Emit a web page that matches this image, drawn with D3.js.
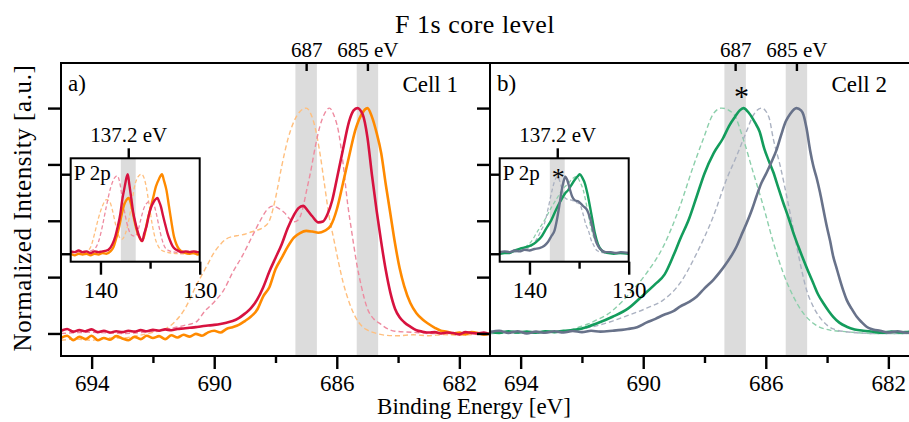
<!DOCTYPE html>
<html>
<head>
<meta charset="utf-8">
<script src="https://cdn.jsdelivr.net/npm/d3@7"></script>
<style>
  html, body { margin: 0; padding: 0; background: #fff; }
  svg { display: block; font-family: "Liberation Serif", "Times New Roman", serif; }
</style>
</head>
<body>
<svg id="chart" width="909" height="422"></svg>
<script>
// ---------------- F 1s spectra, [binding energy (eV), normalized intensity] ----------------
// Cell 1
const cell1Red = [
  [695.0,0.012],[694.8,0.020],[694.6,0.008],[694.4,0.015],[694.2,0.010],[694.0,0.018],[693.8,0.006],
  [693.6,0.012],[693.4,0.004],[693.2,0.010],[693.0,0.006],[692.8,0.012],[692.6,0.008],[692.4,0.015],
  [692.2,0.010],[692.0,0.016],[691.8,0.012],[691.6,0.018],[691.4,0.014],[691.2,0.020],[691.0,0.022],
  [690.8,0.025],[690.6,0.028],[690.4,0.032],[690.2,0.035],[690.0,0.038],[689.8,0.042],[689.6,0.048],
  [689.4,0.055],[689.2,0.068],[689.0,0.088],[688.8,0.112],[688.6,0.150],[688.4,0.205],[688.2,0.275],
  [688.0,0.335],[687.8,0.395],[687.6,0.468],[687.4,0.525],[687.25,0.556],[687.1,0.566],[686.95,0.545],
  [686.8,0.520],[686.6,0.493],[686.45,0.497],[686.3,0.530],[686.15,0.590],[686.0,0.684],[685.8,0.815],
  [685.6,0.940],[685.45,0.990],[685.33,1.000],[685.15,0.970],[685.0,0.870],[684.85,0.700],[684.7,0.545],
  [684.55,0.405],[684.4,0.280],[684.25,0.180],[684.1,0.110],[683.95,0.072],[683.8,0.050],[683.6,0.030],
  [683.4,0.014],[683.2,0.008],[683.0,0.004],[682.8,0.006],[682.6,0.000],[682.4,0.004],[682.2,0.002],
  [682.0,-0.004],[681.8,0.006],[681.6,0.002],[681.4,0.000],[681.2,0.004],[681.0,-0.004]
];
const cell1Orange = [
  [695.0,-0.020],[694.8,-0.010],[694.6,-0.030],[694.4,-0.015],[694.2,-0.025],[694.0,-0.010],[693.8,-0.030],
  [693.6,-0.020],[693.4,-0.028],[693.2,-0.012],[693.0,-0.022],[692.8,-0.030],[692.6,-0.015],[692.4,-0.025],
  [692.2,-0.010],[692.0,-0.020],[691.8,-0.012],[691.6,-0.025],[691.4,-0.008],[691.2,-0.018],[691.0,-0.006],
  [690.8,-0.014],[690.6,-0.002],[690.4,-0.010],[690.2,0.005],[690.0,0.012],[689.8,0.004],[689.6,0.020],
  [689.4,0.028],[689.2,0.038],[689.0,0.055],[688.8,0.075],[688.6,0.105],[688.4,0.165],[688.2,0.205],
  [688.0,0.285],[687.8,0.335],[687.6,0.385],[687.4,0.425],[687.2,0.445],[687.0,0.455],[686.8,0.452],
  [686.6,0.447],[686.4,0.455],[686.2,0.478],[686.0,0.550],[685.8,0.665],[685.6,0.785],[685.4,0.900],
  [685.2,0.970],[685.0,1.000],[684.85,0.960],[684.7,0.890],[684.55,0.800],[684.4,0.660],[684.25,0.530],
  [684.1,0.400],[683.95,0.290],[683.8,0.210],[683.6,0.135],[683.4,0.090],[683.2,0.062],[683.0,0.042],
  [682.8,0.025],[682.6,0.012],[682.4,0.008],[682.2,0.000],[682.0,0.004],[681.8,-0.004],[681.6,0.006],
  [681.4,0.002],[681.2,-0.006],[681.0,0.000]
];
const cell1RedRef = [
  [695.0,0.000],[694.0,0.005],[693.0,0.000],[692.0,0.010],[691.5,0.020],[691.0,0.035],[690.6,0.050],
  [690.3,0.100],[690.0,0.140],[689.7,0.190],[689.4,0.270],[689.1,0.340],[688.8,0.420],[688.5,0.500],
  [688.3,0.545],[688.1,0.565],[687.9,0.555],[687.7,0.535],[687.55,0.510],[687.4,0.495],[687.25,0.505],
  [687.1,0.560],[687.0,0.625],[686.85,0.720],[686.7,0.830],[686.55,0.920],[686.4,0.975],[686.24,1.000],
  [686.1,0.970],[685.95,0.900],[685.8,0.760],[685.65,0.580],[685.5,0.440],[685.35,0.310],[685.2,0.210],
  [685.0,0.110],[684.8,0.065],[684.6,0.045],[684.4,0.025],[684.1,0.010],[683.5,0.005],[683.0,0.000],
  [682.0,0.000],[681.0,-0.003]
];
const cell1OrangeRef = [
  [695.0,-0.030],[694.5,-0.025],[694.0,-0.030],[693.5,-0.020],[693.0,-0.020],[692.5,-0.010],[692.0,0.005],
  [691.6,0.020],[691.3,0.050],[691.0,0.100],[690.8,0.150],[690.6,0.210],[690.4,0.260],[690.2,0.310],
  [690.0,0.360],[689.8,0.395],[689.6,0.420],[689.4,0.430],[689.2,0.435],[689.0,0.440],[688.8,0.450],
  [688.6,0.458],[688.4,0.470],[688.2,0.500],[688.0,0.600],[687.8,0.740],[687.6,0.860],[687.4,0.940],
  [687.2,0.985],[687.0,1.000],[686.85,0.975],[686.7,0.910],[686.55,0.800],[686.4,0.660],[686.25,0.520],
  [686.1,0.420],[685.95,0.320],[685.8,0.230],[685.6,0.140],[685.4,0.075],[685.2,0.035],[685.0,0.015],
  [684.7,0.000],[684.4,-0.008],[684.0,-0.010],[683.5,-0.006],[683.0,-0.010],[682.5,-0.005],[682.0,-0.008],
  [681.5,-0.004],[681.0,-0.006]
];
// Cell 2
const cell2Green = [
  [695.0,0.008],[694.7,0.002],[694.4,0.010],[694.1,0.004],[693.8,0.009],[693.5,0.003],[693.2,0.010],
  [692.9,0.006],[692.6,0.012],[692.3,0.015],[692.0,0.022],[691.5,0.045],[691.0,0.074],[690.5,0.110],
  [690.0,0.170],[689.6,0.220],[689.3,0.262],[689.0,0.350],[688.8,0.417],[688.5,0.510],[688.25,0.610],
  [688.0,0.710],[687.7,0.800],[687.4,0.865],[687.2,0.920],[687.0,0.962],[686.85,0.990],[686.73,1.000],
  [686.55,0.978],[686.35,0.935],[686.2,0.895],[686.05,0.820],[685.9,0.765],[685.75,0.714],[685.6,0.650],
  [685.43,0.580],[685.25,0.510],[685.1,0.446],[684.95,0.390],[684.77,0.327],[684.6,0.270],[684.45,0.223],
  [684.3,0.175],[684.12,0.134],[683.95,0.100],[683.8,0.074],[683.6,0.048],[683.36,0.030],[683.1,0.018],
  [682.82,0.012],[682.5,0.008],[682.2,0.003],[681.9,0.009],[681.6,0.004],[681.3,0.008],[681.0,0.005]
];
const cell2Gray = [
  [695.0,0.006],[694.7,0.012],[694.4,0.002],[694.1,0.010],[693.8,0.000],[693.5,0.008],[693.2,0.003],
  [692.9,0.010],[692.6,0.004],[692.3,0.011],[692.0,0.006],[691.7,0.012],[691.4,0.008],[691.0,0.012],
  [690.7,0.016],[690.5,0.020],[690.2,0.028],[689.9,0.048],[689.6,0.065],[689.34,0.082],[689.0,0.100],
  [688.8,0.119],[688.5,0.140],[688.25,0.164],[688.0,0.200],[687.71,0.238],[687.5,0.272],[687.28,0.313],
  [687.1,0.350],[686.95,0.387],[686.8,0.435],[686.62,0.491],[686.45,0.550],[686.3,0.610],[686.15,0.665],
  [685.97,0.714],[685.8,0.765],[685.64,0.818],[685.5,0.880],[685.35,0.940],[685.2,0.975],[685.0,1.000],
  [684.85,0.990],[684.77,0.970],[684.67,0.910],[684.55,0.810],[684.45,0.744],[684.34,0.690],[684.23,0.625],
  [684.12,0.550],[684.01,0.476],[683.9,0.410],[683.8,0.342],[683.69,0.290],[683.58,0.238],[683.47,0.190],
  [683.36,0.149],[683.2,0.110],[683.03,0.074],[682.87,0.050],[682.71,0.030],[682.5,0.018],[682.27,0.012],
  [682.0,0.004],[681.7,0.010],[681.4,0.003],[681.0,0.006]
];
const cell2GreenRef = [
  [695.0,0.000],[693.0,0.005],[692.5,0.012],[692.06,0.030],[691.8,0.042],[691.52,0.060],[691.2,0.082],
  [690.98,0.104],[690.7,0.140],[690.43,0.179],[689.89,0.268],[689.34,0.387],[688.8,0.565],[688.36,0.744],
  [688.04,0.863],[687.71,0.975],[687.44,1.000],[687.06,0.975],[686.73,0.860],[686.41,0.714],[686.08,0.565],
  [685.75,0.402],[685.43,0.268],[685.1,0.164],[684.77,0.089],[684.45,0.045],[683.9,0.015],[683.4,0.008],
  [682.5,0.000],[681.0,0.000]
];
const cell2GrayRef = [
  [695.0,0.000],[693.0,0.005],[692.0,0.020],[691.5,0.035],[691.0,0.055],[690.5,0.080],[689.89,0.112],
  [689.34,0.149],[688.8,0.223],[688.25,0.357],[687.71,0.520],[687.28,0.684],[686.95,0.788],[686.62,0.900],
  [686.4,0.970],[686.13,1.000],[685.9,0.960],[685.75,0.860],[685.53,0.744],[685.32,0.610],[685.1,0.461],
  [684.88,0.313],[684.67,0.193],[684.45,0.119],[684.12,0.052],[683.8,0.020],[683.4,0.008],[682.5,0.000],
  [681.0,0.000]
];

// ---------------- P 2p spectra (insets) ----------------
const p2pRed = [
  [143.0,0.03],[142.6,0.02],[142.2,0.04],[141.8,0.02],[141.4,0.03],[141.0,0.01],[140.6,0.03],[140.2,0.02],
  [139.8,0.03],[139.4,0.04],[139.2,0.05],[138.8,0.12],[138.5,0.22],[138.3,0.32],[138.0,0.50],[137.8,0.68],
  [137.55,0.85],[137.35,0.97],[137.25,1.00],[137.1,0.88],[136.9,0.70],[136.7,0.52],[136.5,0.40],[136.3,0.30],
  [136.1,0.22],[135.9,0.17],[135.78,0.16],[135.6,0.25],[135.35,0.35],[135.1,0.50],[134.85,0.60],[134.6,0.66],
  [134.4,0.69],[134.25,0.70],[134.1,0.66],[133.9,0.59],[133.7,0.48],[133.5,0.38],[133.25,0.26],[133.0,0.17],
  [132.75,0.10],[132.5,0.06],[132.2,0.04],[131.8,0.02],[131.4,0.03],[131.0,0.02],[130.6,0.03],[130.2,0.02],
  [130.0,0.02]
];
const p2pOrange = [
  [143.0,0.00],[142.6,-0.02],[142.2,0.00],[141.8,-0.01],[141.4,0.00],[141.0,-0.02],[140.6,0.00],[140.2,-0.01],
  [139.8,0.01],[139.4,0.00],[139.0,0.03],[138.7,0.08],[138.4,0.20],[138.1,0.35],[137.85,0.50],[137.6,0.62],
  [137.3,0.69],[137.15,0.70],[137.0,0.66],[136.8,0.56],[136.6,0.43],[136.4,0.32],[136.2,0.24],[136.0,0.19],
  [135.84,0.16],[135.6,0.22],[135.3,0.40],[135.0,0.55],[134.7,0.70],[134.4,0.85],[134.1,0.94],[133.8,1.00],
  [133.6,0.92],[133.35,0.80],[133.1,0.60],[132.85,0.40],[132.6,0.22],[132.35,0.12],[132.1,0.06],[131.8,0.03],
  [131.5,0.01],[131.0,0.00],[130.6,0.01],[130.2,-0.01],[130.0,0.00]
];
const p2pRedRef = [
  [143.0,0.02],[142.0,0.02],[141.2,0.03],[140.6,0.06],[140.2,0.15],[139.8,0.35],[139.4,0.60],[139.0,0.82],
  [138.6,0.95],[138.3,0.98],[138.1,0.92],[137.8,0.70],[137.5,0.48],[137.2,0.32],[136.9,0.24],[136.5,0.22],
  [136.2,0.30],[135.9,0.45],[135.6,0.58],[135.3,0.64],[135.0,0.66],[134.7,0.64],[134.4,0.52],[134.1,0.34],
  [133.8,0.18],[133.5,0.08],[133.1,0.04],[132.5,0.02],[131.0,0.01],[130.0,0.01]
];
const p2pOrangeRef = [
  [143.0,-0.01],[142.0,0.00],[141.5,0.02],[141.0,0.08],[140.6,0.25],[140.2,0.45],[139.8,0.60],[139.4,0.68],
  [139.1,0.66],[138.8,0.55],[138.5,0.38],[138.2,0.24],[137.85,0.18],[137.5,0.25],[137.1,0.45],[136.8,0.68],
  [136.5,0.88],[136.2,0.97],[135.9,1.00],[135.7,0.98],[135.4,0.85],[135.1,0.62],[134.8,0.38],[134.5,0.20],
  [134.2,0.10],[133.8,0.04],[133.3,0.02],[132.0,0.00],[130.0,0.00]
];
const p2pGreen = [
  [143.0,0.00],[142.5,0.01],[142.0,0.01],[141.54,0.04],[140.8,0.07],[139.84,0.105],[139.3,0.15],[138.82,0.21],
  [138.3,0.32],[137.81,0.42],[137.3,0.56],[136.79,0.68],[136.4,0.76],[136.1,0.80],[135.8,0.86],[135.43,0.93],
  [135.1,0.98],[134.92,1.00],[134.65,0.95],[134.42,0.886],[134.15,0.75],[133.9,0.59],[133.65,0.42],[133.4,0.253],
  [133.1,0.12],[132.7,0.04],[132.2,0.01],[131.5,0.00],[130.8,0.01],[130.0,0.00]
];
const p2pGray = [
  [143.0,0.02],[142.5,0.03],[142.0,0.02],[141.5,0.04],[141.0,0.03],[140.5,0.05],[140.0,0.04],[139.5,0.06],
  [139.0,0.07],[138.5,0.10],[138.14,0.147],[137.8,0.22],[137.47,0.295],[137.2,0.45],[136.96,0.63],[136.75,0.80],
  [136.6,0.89],[136.4,0.97],[136.2,0.93],[135.95,0.82],[135.7,0.72],[135.4,0.67],[135.09,0.66],[134.6,0.60],
  [134.2,0.55],[133.9,0.45],[133.6,0.30],[133.3,0.16],[133.0,0.08],[132.7,0.04],[132.3,0.02],[131.8,0.02],
  [131.3,0.01],[130.8,0.02],[130.0,0.01]
];
const p2pGreenRef = [
  [143.0,0.00],[141.5,0.03],[140.5,0.08],[139.84,0.15],[139.2,0.28],[138.49,0.42],[137.8,0.58],[137.12,0.72],
  [136.6,0.82],[136.1,0.88],[135.7,0.94],[135.26,0.97],[134.9,0.90],[134.58,0.80],[134.2,0.58],[133.9,0.38],
  [133.5,0.20],[133.22,0.12],[132.8,0.05],[132.2,0.02],[131.0,0.01],[130.0,0.00]
];
const p2pGrayRef = [
  [143.0,0.00],[141.5,0.02],[140.5,0.05],[139.8,0.10],[139.2,0.20],[138.8,0.30],[138.49,0.38],[138.1,0.58],
  [137.81,0.75],[137.5,0.90],[137.2,0.97],[137.0,0.93],[136.7,0.80],[136.4,0.70],[136.1,0.68],[135.77,0.675],
  [135.4,0.65],[134.92,0.62],[134.6,0.50],[134.3,0.36],[134.07,0.295],[133.8,0.18],[133.5,0.10],[133.2,0.04],
  [132.5,0.01],[130.0,0.00]
];

// ---------------- axes, labels, markers ----------------
const energyMajorTicks = [694, 690, 686, 682];
const energyMinorTicks = [692, 688, 684];
const topMarkerTicks = [687, 685];
const topMarkerLabels = ["687", "685 eV"];
const intensityTicks = [0, 0.25, 0.5, 0.75, 1];
const p2pMajorTicks = [140, 130];
const p2pMinorTicks = [135];
const p2pMarker = 137.2;
const p2pMarkerLabel = "137.2 eV";
const bandHalfWidth = 0.35;
const p2pBandHalfWidth = 0.75;

const colors = {
  red: "#d7123f", orange: "#ff8a00",
  redRef: "#ee8ba0", orangeRef: "#ffbf7e",
  green: "#139c5c", gray: "#68728a",
  greenRef: "#8ccfab", grayRef: "#aab1c1"
};

const svg = d3.select("#chart");
const TOP = 63, BOTTOM = 356;
const y = d3.scaleLinear().domain([-0.1, 1.2]).range([BOTTOM, TOP]);

const panels = [
  {
    x0: 61, x1: 490, tag: "a)", cell: "Cell 1", mainStar: false,
    main: [
      { data: cell1OrangeRef, color: colors.orangeRef, dashed: true },
      { data: cell1RedRef, color: colors.redRef, dashed: true },
      { data: cell1Orange, color: colors.orange },
      { data: cell1Red, color: colors.red }
    ],
    inset: [
      { data: p2pOrangeRef, color: colors.orangeRef, dashed: true },
      { data: p2pRedRef, color: colors.redRef, dashed: true },
      { data: p2pOrange, color: colors.orange },
      { data: p2pRed, color: colors.red }
    ]
  },
  {
    x0: 490, x1: 919, tag: "b)", cell: "Cell 2", mainStar: true,
    main: [
      { data: cell2GreenRef, color: colors.greenRef, dashed: true },
      { data: cell2GrayRef, color: colors.grayRef, dashed: true },
      { data: cell2Green, color: colors.green },
      { data: cell2Gray, color: colors.gray }
    ],
    inset: [
      { data: p2pGreenRef, color: colors.greenRef, dashed: true },
      { data: p2pGrayRef, color: colors.grayRef, dashed: true },
      { data: p2pGreen, color: colors.green },
      { data: p2pGray, color: colors.gray }
    ]
  }
];

function styleAxis(g, fontSize) {
  g.select(".domain").remove();
  g.selectAll(".tick line").attr("stroke", "#000").attr("stroke-width", 2.4);
  g.selectAll(".tick text").attr("fill", "#000").attr("font-size", fontSize)
    .attr("font-family", "Liberation Serif, serif");
}

panels.forEach((p, i) => {
  const x = d3.scaleLinear().domain([695, 681]).range([p.x0, p.x1]);
  const clipId = "clip-main-" + i;
  svg.append("clipPath").attr("id", clipId)
    .append("rect").attr("x", p.x0).attr("y", TOP).attr("width", p.x1 - p.x0).attr("height", BOTTOM - TOP);

  const body = svg.append("g").attr("clip-path", `url(#${clipId})`);
  // reference energy bands
  body.selectAll("rect.band").data(topMarkerTicks).join("rect")
    .attr("class", "band")
    .attr("x", d => x(d + bandHalfWidth))
    .attr("width", d => x(d - bandHalfWidth) - x(d + bandHalfWidth))
    .attr("y", TOP).attr("height", BOTTOM - TOP)
    .attr("fill", "#dcdcdc");

  const line = d3.line().x(d => x(d[0])).y(d => y(d[1])).curve(d3.curveMonotoneX);
  p.main.forEach(s => {
    body.append("path").datum(s.data)
      .attr("d", line)
      .attr("fill", "none")
      .attr("stroke", s.color)
      .attr("stroke-width", s.dashed ? 1.4 : 2.6)
      .attr("stroke-dasharray", s.dashed ? "5,3" : null)
      .attr("stroke-linejoin", "round");
  });

  // axes
  const gBottom = svg.append("g").attr("transform", `translate(0,${BOTTOM})`)
    .call(d3.axisBottom(x).tickValues(energyMajorTicks).tickSize(13).tickPadding(6).tickFormat(d3.format("d")));
  styleAxis(gBottom, 23);
  gBottom.selectAll(".tick text").attr("dy", "0.71em");
  const gMinor = svg.append("g").attr("transform", `translate(0,${BOTTOM})`)
    .call(d3.axisBottom(x).tickValues(energyMinorTicks).tickSize(7).tickFormat(""));
  styleAxis(gMinor, 23);

  const gLeft = svg.append("g").attr("transform", `translate(${p.x0},0)`)
    .call(d3.axisLeft(y).tickValues(intensityTicks).tickSize(13).tickFormat(""));
  styleAxis(gLeft, 23);

  const gTop = svg.append("g").attr("transform", `translate(0,${TOP})`)
    .call(d3.axisTop(x).tickValues(topMarkerTicks).tickSize(-8).tickPadding(6)
      .tickFormat((d, k) => topMarkerLabels[k]));
  styleAxis(gTop, 21);

  // frame
  const frame = svg.append("g").attr("stroke", "#000").attr("stroke-width", 2).attr("fill", "none");
  frame.append("path").attr("d", `M${p.x0},${TOP}H${p.x1}M${p.x0},${BOTTOM}H${p.x1}M${p.x0},${TOP - 1}V${BOTTOM + 1}M${p.x1},${TOP - 1}V${BOTTOM + 1}`);

  // panel labels
  svg.append("text").attr("x", p.x0 + 7).attr("y", 91).attr("font-size", 23).text(p.tag);
  svg.append("text").attr("x", p.x0 + 397).attr("y", 92).attr("font-size", 23)
    .attr("text-anchor", "end").text(p.cell);

  if (p.mainStar) {
    const peak = cell2Green.reduce((a, b) => (b[1] > a[1] ? b : a));
    svg.append("text").attr("x", x(peak[0]) - 2).attr("y", 106).attr("font-size", 30)
      .attr("text-anchor", "middle").text("*");
  }

  // ---------------- P 2p inset ----------------
  const ix0 = p.x0 + 9.7, ix1 = ix0 + 129;
  const iTop = 158.3, iBottom = 261.7;
  const xi = d3.scaleLinear().domain([143, 130]).range([ix0, ix1]);
  const yi = d3.scaleLinear().domain([-0.1, 1.2]).range([iBottom, iTop]);
  const insetClip = "clip-inset-" + i;
  svg.append("clipPath").attr("id", insetClip)
    .append("rect").attr("x", ix0).attr("y", iTop).attr("width", ix1 - ix0).attr("height", iBottom - iTop);

  svg.append("rect").attr("x", ix0).attr("y", iTop).attr("width", ix1 - ix0).attr("height", iBottom - iTop)
    .attr("fill", "#fff");
  const ib = svg.append("g").attr("clip-path", `url(#${insetClip})`);
  ib.append("rect")
    .attr("x", xi(p2pMarker + p2pBandHalfWidth))
    .attr("width", xi(p2pMarker - p2pBandHalfWidth) - xi(p2pMarker + p2pBandHalfWidth))
    .attr("y", iTop).attr("height", iBottom - iTop).attr("fill", "#dcdcdc");
  const iline = d3.line().x(d => xi(d[0])).y(d => yi(d[1])).curve(d3.curveMonotoneX);
  p.inset.forEach(s => {
    ib.append("path").datum(s.data)
      .attr("d", iline)
      .attr("fill", "none")
      .attr("stroke", s.color)
      .attr("stroke-width", s.dashed ? 1.3 : 2.4)
      .attr("stroke-dasharray", s.dashed ? "4,2.5" : null)
      .attr("stroke-linejoin", "round");
  });

  const giB = svg.append("g").attr("transform", `translate(0,${iBottom})`)
    .call(d3.axisBottom(xi).tickValues(p2pMajorTicks).tickSize(13).tickPadding(7).tickFormat(d3.format("d")));
  styleAxis(giB, 23);
  giB.selectAll(".tick text").attr("dy", "0.71em");
  const giM = svg.append("g").attr("transform", `translate(0,${iBottom})`)
    .call(d3.axisBottom(xi).tickValues(p2pMinorTicks).tickSize(7).tickFormat(""));
  styleAxis(giM, 23);
  const giL = svg.append("g").attr("transform", `translate(${ix0},0)`)
    .call(d3.axisLeft(yi).tickValues([0, 1]).tickSize(9).tickFormat(""));
  styleAxis(giL, 23);
  const giT = svg.append("g").attr("transform", `translate(0,${iTop})`)
    .call(d3.axisTop(xi).tickValues([p2pMarker]).tickSize(10).tickPadding(6).tickFormat(() => p2pMarkerLabel));
  styleAxis(giT, 21);

  svg.append("rect").attr("x", ix0).attr("y", iTop).attr("width", ix1 - ix0).attr("height", iBottom - iTop)
    .attr("fill", "none").attr("stroke", "#000").attr("stroke-width", 2);
  svg.append("text").attr("x", ix0 + 3).attr("y", 180).attr("font-size", 21).text("P 2p");

  if (p.mainStar) {
    svg.append("text").attr("x", xi(p2pMarker) + 1).attr("y", 186).attr("font-size", 26)
      .attr("text-anchor", "middle").text("*");
  }
});

// titles
svg.append("text").attr("x", 475).attr("y", 33).attr("font-size", 26).attr("letter-spacing", 0.5)
  .attr("text-anchor", "middle").text("F 1s core level");
svg.append("text").attr("x", 474).attr("y", 414).attr("font-size", 23)
  .attr("text-anchor", "middle").text("Binding Energy [eV]");
svg.append("text").attr("transform", "translate(31,208) rotate(-90)").attr("font-size", 25)
  .attr("letter-spacing", 0.6)
  .attr("text-anchor", "middle").text("Normalized Intensity [a.u.]");
</script>
</body>
</html>
